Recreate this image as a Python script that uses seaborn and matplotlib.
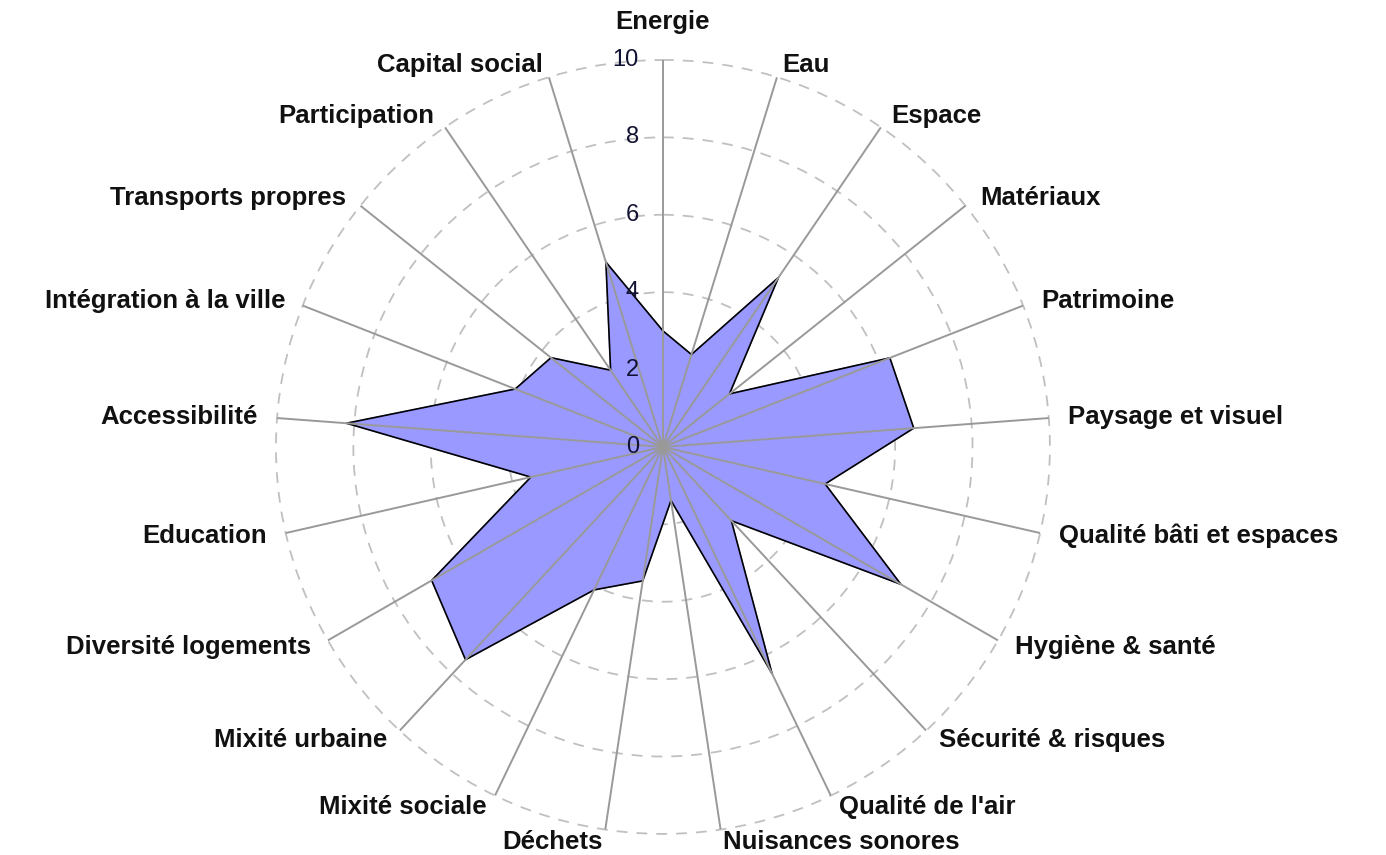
import numpy as np
import pandas as pd
import matplotlib
matplotlib.use("Agg")
import matplotlib.pyplot as plt
import matplotlib.transforms as mtransforms
import seaborn as sns

categories = ["Energie", "Eau", "Espace", "Matériaux", "Patrimoine",
              "Paysage et visuel", "Qualité bâti et espaces", "Hygiène & santé",
              "Sécurité & risques", "Qualité de l'air", "Nuisances sonores",
              "Déchets", "Mixité sociale", "Mixité urbaine", "Diversité logements",
              "Education", "Accessibilité", "Intégration à la ville",
              "Transports propres", "Participation", "Capital social"]
scores = [3.0, 2.5, 5.3, 2.2, 6.3, 6.5, 4.3, 7.1, 2.6, 6.5, 1.4,
          3.5, 4.1, 7.5, 6.9, 3.5, 8.2, 4.1, 3.7, 2.4, 5.0]
rticks = [0, 2, 4, 6, 8, 10]

sns.set_style("white")
plt.rcParams['font.family'] = ['Liberation Sans', 'DejaVu Sans']

n = len(categories)
angles = np.arange(n) * 2 * np.pi / n
# close the polygon with the first point at 2*pi
df = pd.DataFrame({"theta": np.append(angles, 2 * np.pi),
                   "score": scores + scores[:1]})

fig = plt.figure(figsize=(13.86, 8.55), dpi=100)
ax = fig.add_axes([0.1991, 0.0246, 0.5584, 0.9053], projection="polar")
ax.set_theta_zero_location("N")
ax.set_theta_direction(-1)
ax.set_ylim(0, 10)
ax.set_axisbelow(True)

ax.set_yticks(rticks)
ax.set_yticklabels([])
ax.set_xticks([])
ax.xaxis.grid(False)
ax.yaxis.grid(True, color="#c0c0c0", linestyle=(0, (6, 5)), linewidth=1.3)
for gl in ax.yaxis.get_gridlines():
    gl.set_clip_on(False)
ax.spines["polar"].set_visible(False)

ax.fill(df["theta"], df["score"], color="#9999ff", zorder=1)
sns.lineplot(data=df, x="theta", y="score", sort=False, estimator=None,
             color="black", linewidth=1.2, ax=ax, zorder=2)
ax.vlines(angles, 0, 10, color="#999999", linewidth=1.4, zorder=3)
ax.set_xlabel("")
ax.set_ylabel("")

tick_tr = mtransforms.offset_copy(ax.transData, fig=fig, x=-24, y=0, units="dots")
for r in rticks:
    ax.text(0, r, str(r), transform=tick_tr, ha="right", va="center",
            fontsize=17, color="#111133", zorder=4)

for ang, lab in zip(angles, categories):
    s, c = np.sin(ang), np.cos(ang)
    if abs(s) < 0.05:
        ha, va, dx, dy = "center", "bottom", 0, 26
    else:
        ha = "left" if s > 0 else "right"
        va, dx, dy = "center", 19 * s, 13 * c
    tr = mtransforms.offset_copy(ax.transData, fig=fig, x=dx, y=dy, units="dots")
    ax.text(ang, 10, lab, transform=tr, ha=ha, va=va, fontsize=18.5,
            fontweight="bold", color="#111111", clip_on=False)

fig.savefig("out.png", dpi=100)
